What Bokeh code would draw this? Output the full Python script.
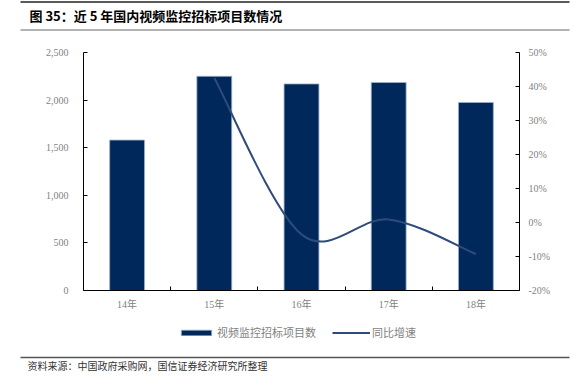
from bokeh.plotting import figure
from bokeh.layouts import column
from bokeh.models import (Range1d, LinearAxis, FixedTicker, NumeralTickFormatter,
                          Legend, LegendItem)
from bokeh.core.properties import value
from bokeh.embed import file_html
from bokeh.resources import INLINE

# ---------------- data ----------------
title_text = "图 35：近 5 年国内视频监控招标项目数情况"
source_text = "资料来源：中国政府采购网，国信证券经济研究所整理"
years = ["14年", "15年", "16年", "17年", "18年"]
counts = [1580, 2250, 2170, 2185, 1975]
growth_years = ["15年", "16年", "17年", "18年"]
growth = [0.425, -0.035, 0.009, -0.093]
left_ticks = [0, 500, 1000, 1500, 2000, 2500]
right_ticks = [-0.2, -0.1, 0.0, 0.1, 0.2, 0.3, 0.4, 0.5]
bar_label = "视频监控招标项目数"
line_label = "同比增速"

# ---------------- styles ----------------
BAR = "#00285A"
BAR_EDGE = "#9FB2CC"
LINE = "#2F4B7C"
TICK_COLOR = "#7f7f7f"
SERIF = "Liberation Serif, Noto Sans CJK SC"
SANS = "Noto Sans CJK SC"
NAN = float("nan")

W = 576
H_HEAD, H_MAIN, H_FOOT = 36, 284, 66


def blank(h):
    f = figure(width=W, height=h, x_range=Range1d(0, W), y_range=Range1d(h, 0),
               output_backend="svg", toolbar_location=None,
               x_axis_type=None, y_axis_type=None, frame_align=False,
               min_border=0, min_border_left=0, min_border_right=0,
               min_border_top=0, min_border_bottom=0)
    f.outline_line_color = None
    f.grid.visible = False
    return f


# ---------------- header ----------------
head = blank(H_HEAD)
head.segment(x0=[20], y0=[1.5], x1=[569], y1=[1.5], line_color="#222222", line_width=1.5)
head.segment(x0=[20], y0=[29.5], x1=[569], y1=[29.5], line_color="#999999", line_width=1.5)
head.text(x=[29], y=[14.5], text=[title_text], text_font=value(SANS),
          text_font_style="bold", text_font_size="13px", text_color="black",
          text_baseline="middle", text_align="left")

# ---------------- main chart ----------------
pos = {c: i + 0.5 for i, c in enumerate(years)}
centers = [pos[c] for c in years]
bounds = list(range(len(years) + 1))

p = figure(width=W, height=H_MAIN, x_range=Range1d(0, len(years)),
           y_range=Range1d(left_ticks[0], left_ticks[-1]),
           output_backend="svg", toolbar_location=None, frame_align=False,
           min_border_left=83, min_border_right=W - 519, min_border_top=16,
           min_border_bottom=30)
p.outline_line_color = None
p.grid.visible = False

p.extra_y_ranges = {"pct": Range1d(right_ticks[0], right_ticks[-1])}

bars = p.vbar(x=centers, top=counts, width=0.4, fill_color=BAR,
              line_color=BAR_EDGE, line_width=0.8)

# smooth (Excel-like) curve: cubic bezier segments computed from the data points
gx = [pos[c] for c in growth_years]
gy = growth
n = len(gx)
x0, y0, x1, y1, cx0, cy0, cx1, cy1 = [], [], [], [], [], [], [], []
for i in range(n - 1):
    a = max(i - 1, 0)
    d = min(i + 2, n - 1)
    x0.append(gx[i]); y0.append(gy[i])
    x1.append(gx[i + 1]); y1.append(gy[i + 1])
    cx0.append(gx[i] + (gx[i + 1] - gx[a]) / 6)
    cy0.append(gy[i] + (gy[i + 1] - gy[a]) / 6)
    cx1.append(gx[i + 1] - (gx[d] - gx[i]) / 6)
    cy1.append(gy[i + 1] - (gy[d] - gy[i]) / 6)
curve = p.bezier(x0=x0, y0=y0, x1=x1, y1=y1, cx0=cx0, cy0=cy0, cx1=cx1, cy1=cy1,
                 line_color=LINE, line_width=2, y_range_name="pct")

xa = p.xaxis[0]
xa.ticker = FixedTicker(ticks=centers, minor_ticks=bounds)
xa.major_label_overrides = {c: lab for c, lab in zip(centers, years)}
xa.major_tick_in = 0
xa.major_tick_out = 0
xa.minor_tick_in = 4
xa.minor_tick_out = 0
xa.axis_line_color = "black"
xa.minor_tick_line_color = "black"
xa.major_label_text_font = SERIF
xa.major_label_text_font_size = "10px"
xa.major_label_text_color = TICK_COLOR
xa.major_label_standoff = 8

ya = p.yaxis[0]
ya.ticker = FixedTicker(ticks=left_ticks)
ya.formatter = NumeralTickFormatter(format="0,0")
ya.major_tick_in = 4
ya.major_tick_out = 0
ya.minor_tick_line_color = None
ya.axis_line_color = "black"
ya.major_tick_line_color = "black"
ya.major_label_text_font = SERIF
ya.major_label_text_font_size = "10px"
ya.major_label_text_color = TICK_COLOR
ya.major_label_standoff = 15

ra = LinearAxis(y_range_name="pct", ticker=FixedTicker(ticks=right_ticks),
                formatter=NumeralTickFormatter(format="0%"))
ra.major_tick_in = 4
ra.major_tick_out = 0
ra.minor_tick_line_color = None
ra.axis_line_color = "black"
ra.major_tick_line_color = "black"
ra.major_label_text_font = SERIF
ra.major_label_text_font_size = "10px"
ra.major_label_text_color = TICK_COLOR
ra.major_label_standoff = 9
p.add_layout(ra, "right")

# ---------------- footer: legend, rule, source ----------------
foot = blank(H_FOOT)
# legend key glyphs (no visible data of their own)
lb = foot.vbar(x=[NAN], top=[NAN], width=1, fill_color=BAR, line_color=BAR_EDGE,
               line_width=0.8)
ll = foot.line(x=[NAN, NAN], y=[NAN, NAN], line_color=LINE, line_width=2)
legend = Legend(items=[LegendItem(label=bar_label, renderers=[lb], index=0),
                       LegendItem(label=line_label, renderers=[ll], index=0)],
                orientation="horizontal", location=(177, H_FOOT - 13 - 7),
                border_line_color=None, background_fill_alpha=0,
                glyph_width=38, glyph_height=7, label_height=14, label_width=10,
                label_text_font=SERIF, label_text_font_size="11px",
                label_text_color=TICK_COLOR, label_text_baseline="middle",
                spacing=16, padding=0, margin=0, label_standoff=2)
foot.add_layout(legend)
foot.segment(x0=[20], y0=[37], x1=[569], y1=[37], line_color="#555555", line_width=1.5)
foot.text(x=[27], y=[44.5], text=[source_text], text_font=value(SANS),
          text_font_size="10px", text_color="#333333", text_baseline="middle",
          text_align="left")

layout = column(head, p, foot, spacing=0)
open("out.html", "w").write(file_html(layout, INLINE))
